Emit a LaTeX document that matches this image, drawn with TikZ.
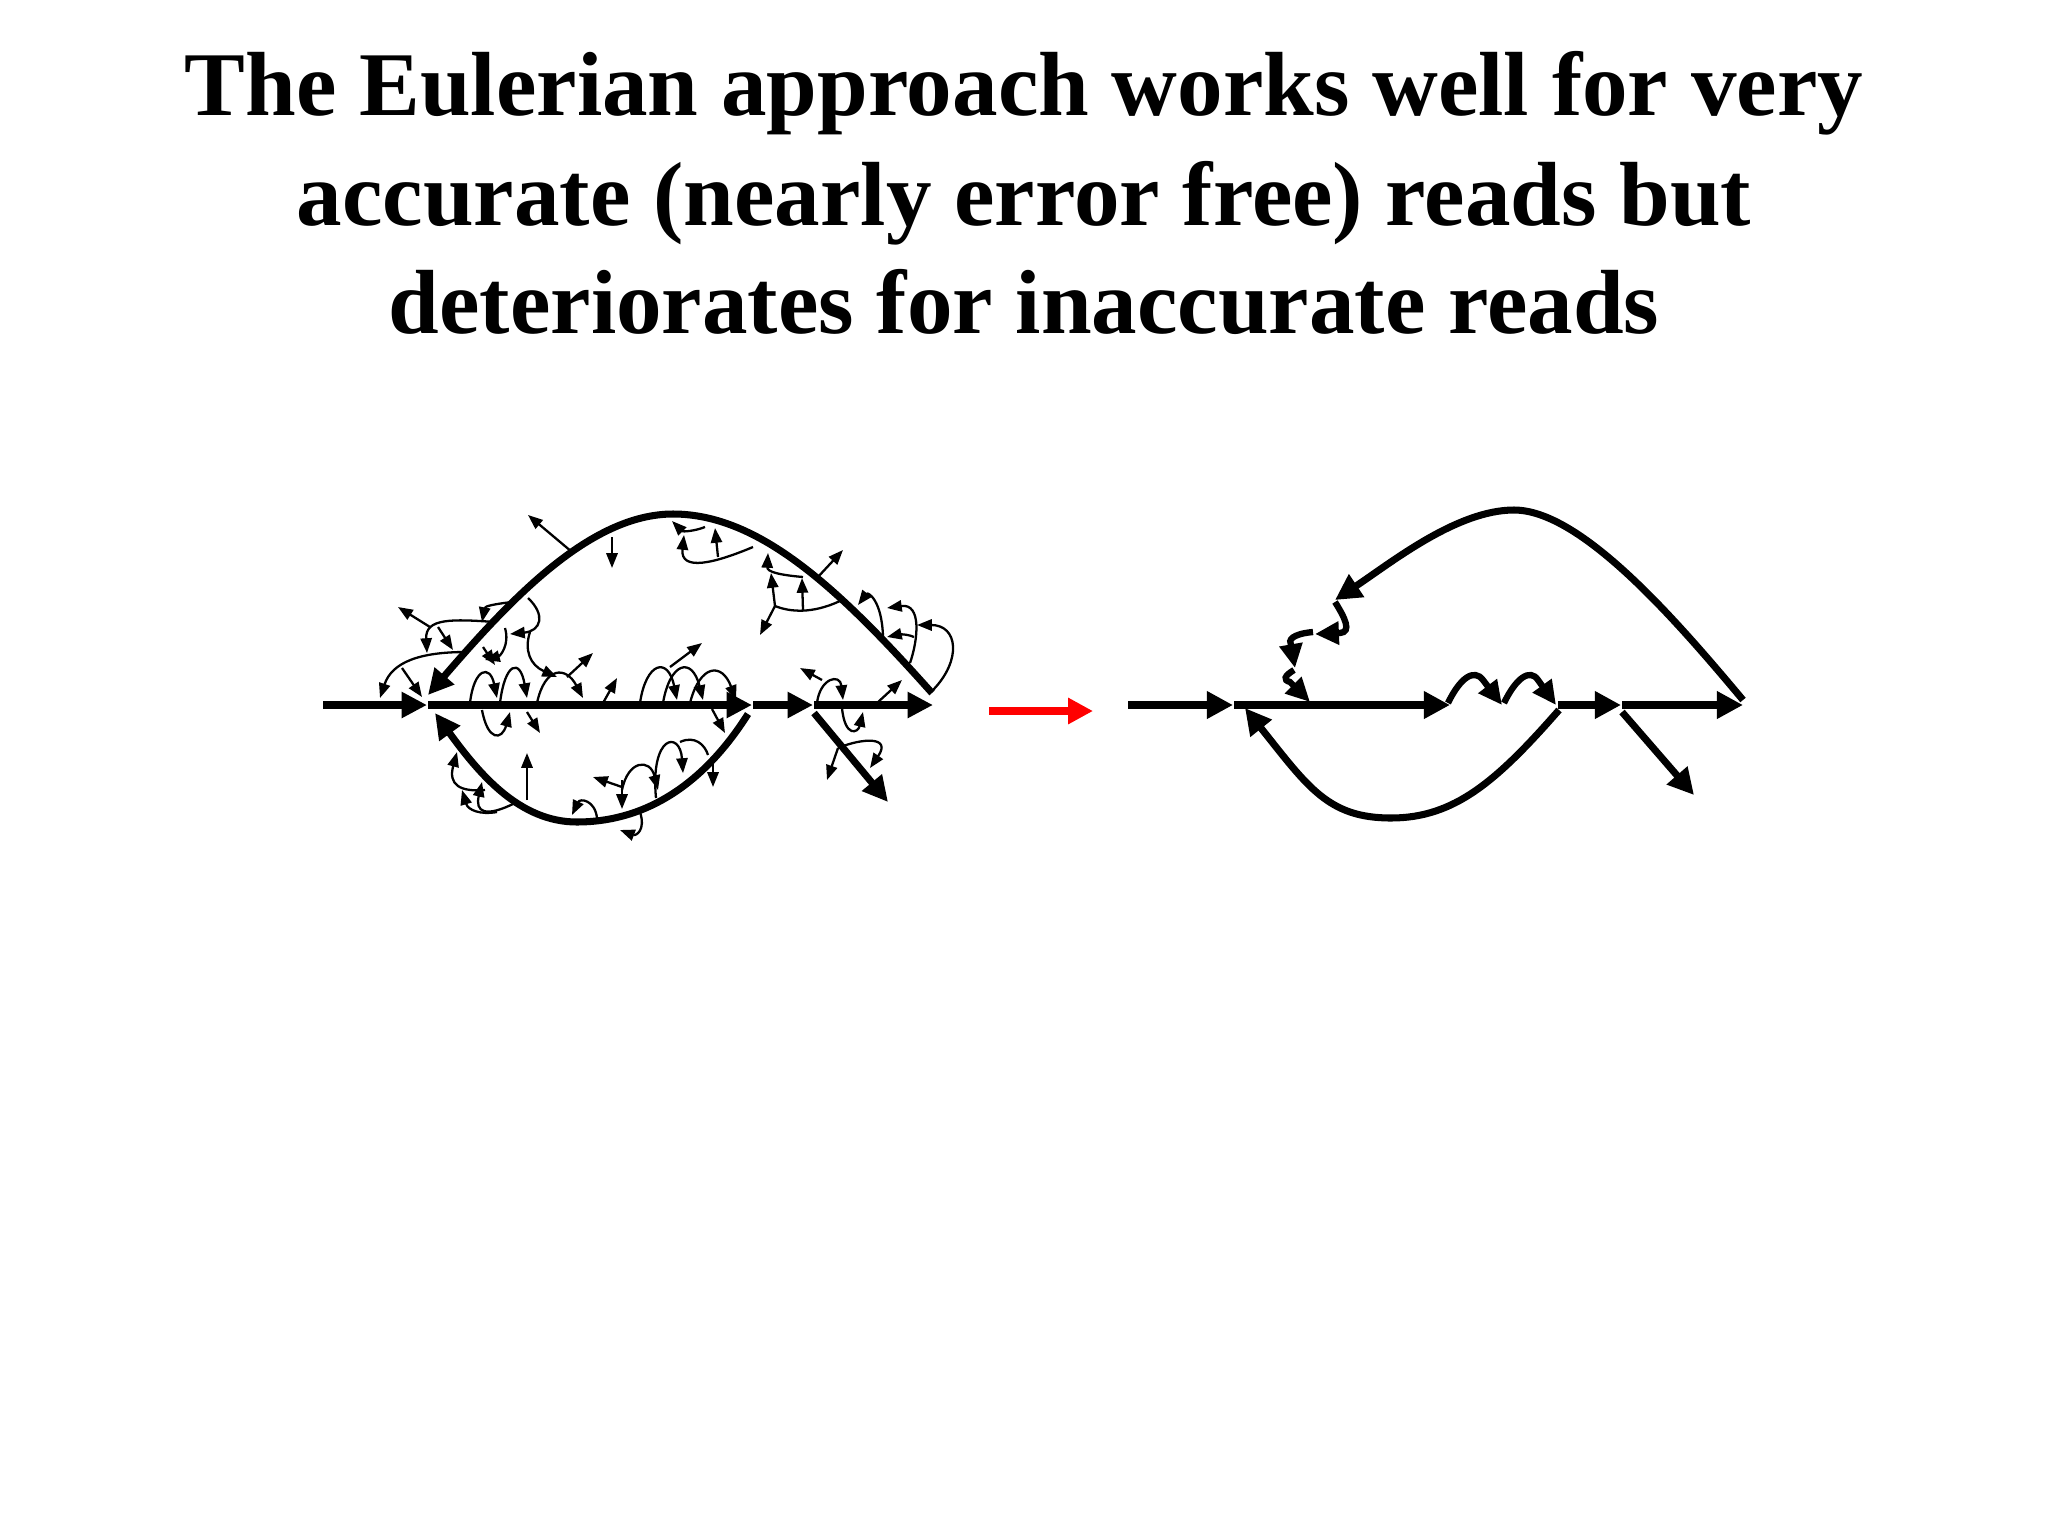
\documentclass[tikz,border=0pt]{standalone}
\usepackage{fontspec}
\setmainfont{Liberation Serif}
\usetikzlibrary{arrows.meta}
\begin{document}
\begin{tikzpicture}[x=0.01cm,y=-0.01cm,
  title/.style={font=\bfseries\fontsize{25.9pt}{31pt}\selectfont,anchor=base,inner sep=0pt},
  edgeL/.style={line width=2pt,-{Triangle[length=7.2pt,width=7pt]}},
  edgeR/.style={line width=2pt,-{Triangle[length=7.4pt,width=7.4pt]}},
  small/.style={line width=1.8pt,-{Triangle[length=6.8pt,width=6.3pt]}},
  tiny/.style={line width=0.65pt,-{Triangle[length=4.2pt,width=3.2pt]}},
  tinyline/.style={line width=0.65pt},
  redarrow/.style={line width=2pt,red,-{Triangle[length=7.1pt,width=7.1pt]}}]
\useasboundingbox (0,0) rectangle (2048,1536);
\node[title] (t1) at (1024,115) {The Eulerian approach works well for very};
\node[title] (t2) at (1024,225) {accurate (nearly error free) reads but};
\node[title] (t3) at (1024,333) {deteriorates for inaccurate reads};

% ---------------- left graph (tangled) ----------------
\coordinate (la) at (323,705);
\coordinate (lb) at (427,705);
\coordinate (lc) at (752,705);
\coordinate (ld) at (813,705);
\coordinate (le) at (933,705);
\draw[edgeL] (la) -- (lb);
\draw[edgeL] (428,705) -- (lc);
\draw[edgeL] (753,705) -- (ld);
\draw[edgeL] (814,705) -- (le);
\draw[edgeL] (814,713) -- (888,802);
\draw[edgeL] (932,693) .. controls (840,590) and (760,514) .. (673,514) .. controls (590,514) and (510,600) .. (428,695);
\draw[edgeL] (748,714) .. controls (700,790) and (640,822) .. (577,822) .. controls (520,822) and (480,775) .. (435,713);

% thin arrows on upper curve
\draw[tiny] (705,527) .. controls (695,531) and (683,532) .. (672,521);
\draw[tiny] (753,547) .. controls (715,563) and (680,572) .. (684,535);
\draw[tiny] (718,557) -- (715,528);
\draw[tiny] (803,577) .. controls (780,575) and (767,572) .. (768,553);
\draw[tinyline] (840,601) .. controls (812,614) and (790,612) .. (775,606);
\draw[tiny] (775,606) -- (771,573);
\draw[tiny] (803,610) -- (802,578);
\draw[tiny] (775,606) -- (760,635);
\draw[tiny] (817,578) -- (843,550);
\draw[tiny] (883,637) .. controls (882,600) and (868,592) .. (858,605);
\draw[tiny] (910,663) .. controls (918,640) and (922,603) .. (887,608);
\draw[tiny] (914,637) .. controls (905,633) and (896,635) .. (887,637);
\draw[tiny] (933,690) .. controls (962,660) and (958,625) .. (917,625);

% upper-left cluster
\draw[tiny] (572,552) -- (528,515);
\draw[tiny] (612,537) -- (612,568);
\draw[tiny] (430,627) -- (398,607);
\draw[tiny] (495,622) .. controls (452,619) and (425,618) .. (427,653);
\draw[tiny] (438,627) -- (453,650);
\draw[tiny] (466,652) .. controls (420,652) and (392,662) .. (380,698);
\draw[tiny] (402,668) -- (422,697);
\draw[tiny] (512,602) .. controls (495,604) and (485,606) .. (482,622);
\draw[tiny] (528,598) .. controls (546,615) and (541,631) .. (510,634);
\draw[tiny] (530,632) .. controls (524,650) and (530,665) .. (557,677);
\draw[tiny] (505,628) .. controls (510,645) and (500,656) .. (485,660);
\draw[tiny] (483,647) -- (495,665);

% humps on the main edge
\draw[tiny] (470,703) .. controls (474,668) and (490,664) .. (497,698);
\draw[tiny] (500,703) .. controls (505,662) and (520,658) .. (527,698);
\draw[tiny] (537,703) .. controls (545,666) and (566,666) .. (583,698);
\draw[tiny] (567,677) -- (593,653);
\draw[tiny] (603,703) -- (617,678);
\draw[tiny] (482,710) .. controls (488,742) and (502,740) .. (510,712);
\draw[tiny] (527,712) -- (540,733);
\draw[tiny] (640,703) .. controls (646,662) and (668,656) .. (677,700);
\draw[tiny] (663,703) .. controls (670,662) and (692,656) .. (703,700);
\draw[tiny] (690,703) .. controls (700,664) and (722,662) .. (736,700);
\draw[tiny] (670,667) -- (702,643);
\draw[tiny] (712,709) -- (725,733);

% right cluster
\draw[tiny] (817,703) .. controls (820,678) and (840,673) .. (843,700);
\draw[tiny] (822,680) -- (800,668);
\draw[tiny] (842,708) .. controls (845,738) and (858,733) .. (863,712);
\draw[tiny] (877,703) -- (902,680);
\draw[tiny] (838,748) .. controls (862,738) and (892,736) .. (870,768);
\draw[tiny] (838,748) -- (827,780);

% lower curve cluster
\draw[tiny] (527,800) -- (527,753);
\draw[tiny] (515,803) .. controls (485,818) and (475,812) .. (482,782);
\draw[tiny] (485,790) .. controls (460,792) and (448,785) .. (457,752);
\draw[tiny] (497,812) .. controls (480,815) and (468,810) .. (462,790);
\draw[tiny] (597,818) .. controls (595,800) and (580,798) .. (572,815);
\draw[tiny] (622,787) -- (593,777);
\draw[tiny] (622,780) -- (622,809);
\draw[tiny] (622,790) .. controls (628,760) and (650,758) .. (658,790);
\draw[tiny] (656,798) .. controls (650,735) and (680,730) .. (683,773);
\draw[tinyline] (680,742) .. controls (695,735) and (705,745) .. (708,755);
\draw[tiny] (713,760) -- (713,787);
\draw[tiny] (640,812) .. controls (646,830) and (636,836) .. (620,830);

% ---------------- red arrow ----------------
\coordinate (ra) at (989,711);
\coordinate (rb) at (1093,711);
\draw[redarrow] (ra) -- (rb);

% ---------------- right graph (cleaned) ----------------
\coordinate (ga) at (1128,705);
\coordinate (gb) at (1233,705);
\coordinate (gc) at (1450,705);
\coordinate (gd) at (1621,705);
\coordinate (ge) at (1743,705);
\draw[edgeR] (ga) -- (gb);
\draw[edgeR] (1234,705) -- (gc);
\draw[small] (1448,703) .. controls (1460,678) and (1474,668) .. (1483,680) -- (1502,705);
\draw[small] (1504,703) .. controls (1516,678) and (1530,668) .. (1538,680) -- (1556,705);
\draw[edgeR] (1558,705) -- (gd);
\draw[edgeR] (1622,705) -- (ge);
\draw[edgeR] (1622,712) -- (1694,795);
\draw[edgeR] (1743,700) .. controls (1676,620) and (1581,510) .. (1514,510) .. controls (1457,510) and (1392,562) .. (1335,600);
\draw[edgeR] (1559,710) .. controls (1496,782) and (1454,818) .. (1391,818) .. controls (1328,818) and (1308,787) .. (1245,708);
\draw[small] (1335,602) .. controls (1345,618) and (1352,632) .. (1340,633) -- (1315,634);
\draw[small] (1313,632) .. controls (1292,634) and (1288,640) .. (1291,645) -- (1295,668);
\draw[small] (1294,670) .. controls (1284,676) and (1283,680) .. (1290,682) -- (1310,702);
\end{tikzpicture}
\end{document}
